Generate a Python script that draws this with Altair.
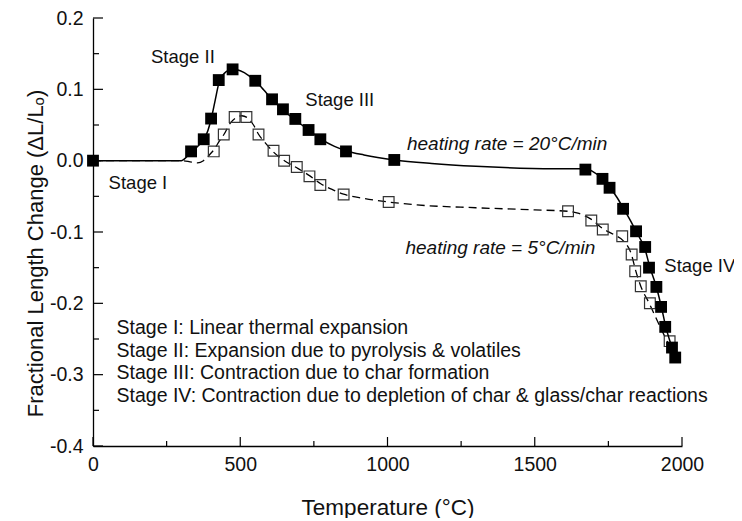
import altair as alt
import pandas as pd

FONT = "Liberation Sans"
W, H = 589, 428

# 20 C/min measured points (filled squares)
fill_T = [0, 333, 376, 401, 427, 474, 551, 608, 645, 687, 732, 772, 859, 1023,
          1672, 1730, 1754, 1800, 1844, 1875, 1888, 1913, 1929, 1943, 1966, 1977]
fill_v = [0.0, 0.013, 0.030, 0.059, 0.113, 0.128, 0.112, 0.086, 0.072, 0.0585, 0.043, 0.030, 0.013, 0.001,
          -0.0125, -0.0255, -0.038, -0.0675, -0.099, -0.121, -0.150, -0.177, -0.205, -0.233, -0.262, -0.276]

# 5 C/min measured points (open squares)
open_T = [410, 444, 481, 521, 562, 613, 649, 692, 735, 772, 851, 1004,
          1613, 1692, 1731, 1797, 1829, 1841, 1860, 1891, 1958]
open_v = [0.013, 0.0366, 0.0613, 0.0613, 0.0366, 0.014, 0.0, -0.009, -0.022, -0.034, -0.0475, -0.058,
          -0.071, -0.084, -0.0965, -0.106, -0.1315, -0.155, -0.176, -0.200, -0.253]

# fitted curves
fit20_T = [0, 300, 333, 360, 376, 390, 401, 415, 427, 445, 474, 500, 530, 551, 580, 608, 645, 687, 732,
           772, 820, 859, 920, 1023, 1150, 1300, 1450, 1600, 1672, 1700, 1730, 1754, 1780, 1800, 1825,
           1845, 1875, 1890, 1913, 1930, 1945, 1966, 1977]
fit20_v = [0.0, 0.0, 0.012, 0.022, 0.030, 0.042, 0.058, 0.085, 0.108, 0.122, 0.128, 0.126, 0.119, 0.112,
           0.099, 0.086, 0.071, 0.057, 0.043, 0.031, 0.020, 0.014, 0.008, 0.001, -0.004, -0.008, -0.0105,
           -0.0115, -0.0115, -0.016, -0.025, -0.037, -0.052, -0.066, -0.084, -0.100, -0.125, -0.148,
           -0.177, -0.205, -0.233, -0.262, -0.276]

fit5_T = [0, 300, 335, 355, 375, 395, 410, 430, 445, 465, 485, 505, 525, 545, 562, 585, 613, 650, 692,
          735, 772, 810, 851, 920, 1004, 1100, 1300, 1500, 1613, 1650, 1691, 1730, 1770, 1800, 1828,
          1842, 1860, 1890, 1920, 1958]
fit5_v = [0.0, 0.0, -0.002, -0.003, 0.0, 0.008, 0.015, 0.028, 0.037, 0.052, 0.060, 0.063, 0.060, 0.050,
          0.037, 0.025, 0.012, 0.0, -0.010, -0.021, -0.032, -0.040, -0.047, -0.053, -0.058, -0.062,
          -0.066, -0.069, -0.071, -0.074, -0.082, -0.095, -0.104, -0.112, -0.131, -0.153, -0.176,
          -0.201, -0.228, -0.260]

x_major = [0, 500, 1000, 1500, 2000]
x_minor = [250, 750, 1250, 1750]
y_major = [-0.4, -0.3, -0.2, -0.1, 0.0, 0.1, 0.2]
y_minor = [-0.35, -0.25, -0.15, -0.05, 0.05, 0.15]

stage_text = ["Stage II", "Stage III", "Stage I", "Stage IV"]
stage_T = [197, 721, 53, 1940]
stage_v = [0.146, 0.0856, -0.031, -0.148]

rate_text = ["heating rate = 20°C/min", "heating rate = 5°C/min"]
rate_T = [1066, 1061]
rate_v = [0.024, -0.122]

block_text = ["Stage I: Linear thermal expansion",
              "Stage II: Expansion due to pyrolysis & volatiles",
              "Stage III: Contraction due to char formation",
              "Stage IV: Contraction due to depletion of char & glass/char reactions"]
block_T = [80, 80, 80, 80]
block_v = [-0.235, -0.2667, -0.298, -0.330]

xs = alt.Scale(domain=[0, 2000], nice=False, zero=False)
ys = alt.Scale(domain=[-0.4, 0.2], nice=False, zero=False)

df_fill = pd.DataFrame({"T": fill_T, "v": fill_v})
df_open = pd.DataFrame({"T": open_T, "v": open_v})
df_f20 = pd.DataFrame({"T": fit20_T, "v": fit20_v})
df_f5 = pd.DataFrame({"T": fit5_T, "v": fit5_v})
df_stage = pd.DataFrame({"T": stage_T, "v": stage_v, "t": stage_text})
df_rate = pd.DataFrame({"T": rate_T, "v": rate_v, "t": rate_text})
df_block = pd.DataFrame({"T": block_T, "v": block_v, "t": block_text})

x_axis = alt.Axis(values=x_major, format="d", ticks=False, grid=False, domainColor="black",
                  domainWidth=1.3, labelFont=FONT, labelFontSize=19.5, labelColor="#111",
                  labelPadding=9, labelFlush=False, labelOverlap=False,
                  title="Temperature (°C)", titleFont=FONT, titleFontSize=22.5,
                  titleFontWeight="normal", titleColor="#111", titleX=294.5, titleY=61,
                  titleAlign="center", titleBaseline="middle")
y_axis = alt.Axis(values=y_major, labelExpr="replace(format(datum.value, '.1f'), '\u2212', '-')",
                  ticks=False, grid=False, domainColor="black", domainWidth=1.3,
                  labelFont=FONT, labelFontSize=19.5, labelColor="#111", labelPadding=10,
                  labelFlush=False, labelOverlap=False,
                  title="Fractional Length Change (ΔL/Lₒ)", titleFont=FONT, titleFontSize=22,
                  titleFontWeight="normal", titleColor="#111", titleX=-58, titleY=235,
                  titleAngle=270, titleAlign="center", titleBaseline="middle")


def X():
    return alt.X("T:Q", scale=xs, axis=x_axis)


def Y():
    return alt.Y("v:Q", scale=ys, axis=y_axis)


dash_line = alt.Chart(df_f5).mark_line(color="black", strokeWidth=1.3, strokeDash=[8, 5],
                                       interpolate="monotone").encode(x=X(), y=Y())
open_pts = alt.Chart(df_open).mark_point(shape="square", size=115, filled=False, color="#333",
                                         strokeWidth=1.2, opacity=1).encode(x=X(), y=Y())
solid_line = alt.Chart(df_f20).mark_line(color="black", strokeWidth=1.5,
                                         interpolate="monotone").encode(x=X(), y=Y())
fill_pts = alt.Chart(df_fill).mark_point(shape="square", size=140, filled=True, color="black",
                                         opacity=1).encode(x=X(), y=Y())

xt_major = alt.Chart(pd.DataFrame({"T": x_major})).mark_rule(color="black", strokeWidth=1.2).encode(
    x=X(), y=alt.value(H), y2=alt.value(H - 9))
xt_minor = alt.Chart(pd.DataFrame({"T": x_minor})).mark_rule(color="black", strokeWidth=1.2).encode(
    x=X(), y=alt.value(H), y2=alt.value(H - 5))
yt_major = alt.Chart(pd.DataFrame({"v": y_major})).mark_rule(color="black", strokeWidth=1.2).encode(
    y=Y(), x=alt.value(0), x2=alt.value(10))
yt_minor = alt.Chart(pd.DataFrame({"v": y_minor})).mark_rule(color="black", strokeWidth=1.2).encode(
    y=Y(), x=alt.value(0), x2=alt.value(6))

stage_lbl = alt.Chart(df_stage).mark_text(align="left", baseline="middle", font=FONT, fontSize=18.5,
                                          color="#111").encode(x=X(), y=Y(), text="t:N")
rate_lbl = alt.Chart(df_rate).mark_text(align="left", baseline="middle", font=FONT, fontSize=19,
                                        fontStyle="italic", color="#111").encode(x=X(), y=Y(), text="t:N")
block_lbl = alt.Chart(df_block).mark_text(align="left", baseline="middle", font=FONT, fontSize=19.5,
                                          color="#111").encode(x=X(), y=Y(), text="t:N")

chart = alt.layer(dash_line, open_pts, solid_line, fill_pts, xt_major, xt_minor, yt_major, yt_minor,
                  stage_lbl, rate_lbl, block_lbl).properties(
    width=W, height=H,
    background="white",
    autosize=alt.AutoSizeParams(type="none"),
    padding={"left": 85, "top": 10, "right": 52, "bottom": 72},
).configure_view(stroke=None)

chart.save("out.html", embed_options={"renderer": "svg", "actions": False})
